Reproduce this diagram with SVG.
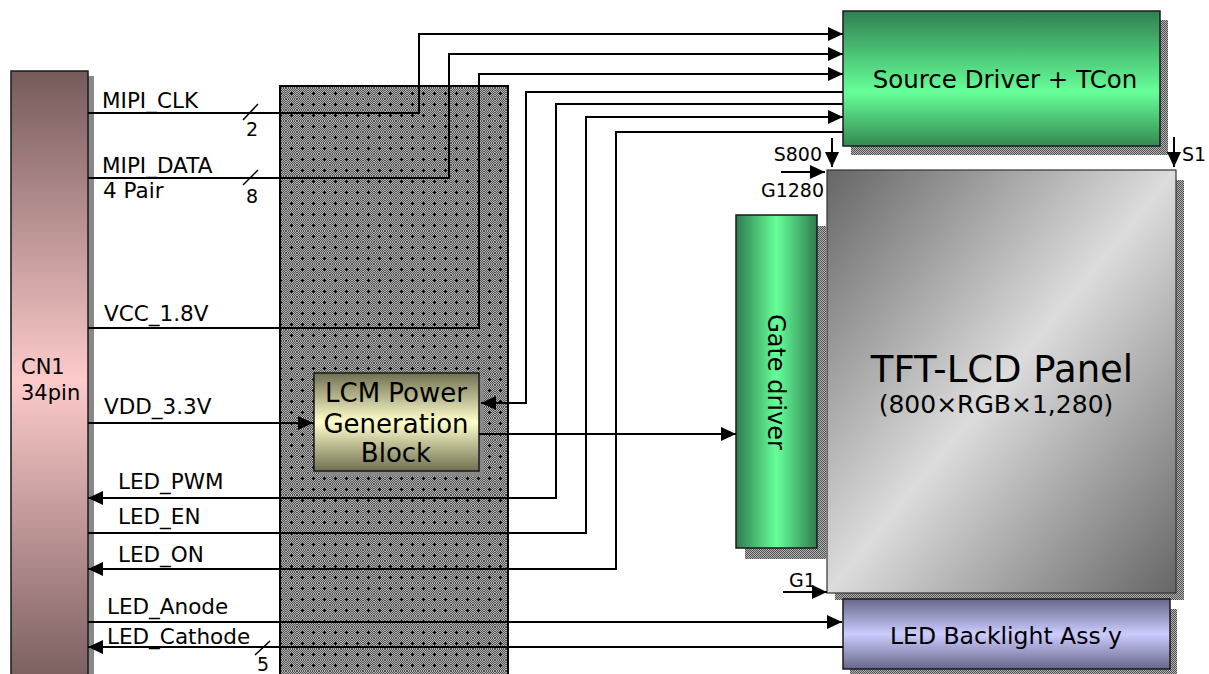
<svg xmlns="http://www.w3.org/2000/svg" width="1209" height="674" viewBox="0 0 1209 674">
<style>
text{font-family:"DejaVu Sans","Verdana",sans-serif;fill:#000}
.lbl{font-size:21.5px}
.num{font-size:19px}
.wire{fill:none;stroke:#000;stroke-width:2}
.tick{stroke:#000;stroke-width:1.5}
.box{stroke:#1a1a1a;stroke-width:1.5}
</style>
<defs>
<pattern id="chk" width="2" height="2" patternUnits="userSpaceOnUse">
<rect width="2" height="2" fill="#b4b4b4"/>
<rect width="1" height="1" fill="#505050"/>
<rect x="1" y="1" width="1" height="1" fill="#505050"/>
</pattern>
<pattern id="dots" width="11" height="11" patternUnits="userSpaceOnUse">
<rect width="11" height="11" fill="url(#chk)"/>
<rect x="5" y="4" width="1" height="3" fill="#000"/>
<rect x="4" y="5" width="3" height="1" fill="#000"/>
</pattern>
<linearGradient id="gCN" x1="0" y1="71" x2="0" y2="690" gradientUnits="userSpaceOnUse">
<stop offset="0" stop-color="#765b5b"/>
<stop offset="0.5" stop-color="#fdcaca"/>
<stop offset="1" stop-color="#765b5b"/>
</linearGradient>
<linearGradient id="gSrc" x1="0" y1="0" x2="0" y2="1">
<stop offset="0" stop-color="#2f8050"/>
<stop offset="0.6" stop-color="#66ff99"/>
<stop offset="1" stop-color="#33894f"/>
</linearGradient>
<linearGradient id="gGate" x1="0" y1="0" x2="1" y2="0">
<stop offset="0" stop-color="#2e7d4f"/>
<stop offset="0.5" stop-color="#66ff99"/>
<stop offset="1" stop-color="#2e7d4f"/>
</linearGradient>
<linearGradient id="gLCM" x1="0" y1="0" x2="0" y2="1">
<stop offset="0" stop-color="#707052"/>
<stop offset="0.5" stop-color="#ffffcc"/>
<stop offset="1" stop-color="#707052"/>
</linearGradient>
<linearGradient id="gBL" x1="0" y1="0" x2="0" y2="1">
<stop offset="0" stop-color="#67678a"/>
<stop offset="0.5" stop-color="#ccccff"/>
<stop offset="1" stop-color="#67678a"/>
</linearGradient>
<linearGradient id="gTFT" x1="0" y1="0" x2="1" y2="1">
<stop offset="0" stop-color="#666"/>
<stop offset="0.5" stop-color="#dcdcdc"/>
<stop offset="1" stop-color="#666"/>
</linearGradient>
<marker id="ah" markerUnits="userSpaceOnUse" markerWidth="15" markerHeight="14" refX="15" refY="7" orient="auto">
<path d="M0,0 L15,7 L0,14 z" fill="#000"/>
</marker>
</defs>

<rect width="1209" height="674" fill="#fff"/>

<g id="cn1">
<rect x="88" y="76" width="6" height="600" fill="#888"/>
<rect x="11" y="71" width="77" height="610" fill="url(#gCN)" class="box"/>
<text x="21" y="374" font-size="21">CN1</text>
<text x="21" y="400" font-size="21">34pin</text>
</g>

<g id="interface-block">
<rect x="280" y="86" width="228" height="600" fill="url(#dots)" stroke="#000" stroke-width="2"/>
</g>

<g id="source-driver">
<rect x="851" y="20" width="317" height="135" fill="url(#chk)"/>
<rect x="843" y="11" width="317" height="135" fill="url(#gSrc)" class="box"/>
<text x="1005" y="88" font-size="24.5" text-anchor="middle">Source Driver + TCon</text>
</g>

<g id="tft-panel">
<rect x="835" y="180" width="349" height="420" fill="url(#chk)"/>
<rect x="827" y="170" width="349" height="423" fill="url(#gTFT)" stroke="#333" stroke-width="1.2"/>
<text x="1002" y="382" font-size="37" text-anchor="middle">TFT-LCD Panel</text>
<text x="996" y="413" font-size="25" text-anchor="middle">(800×RGB×1,280)</text>
</g>

<g id="gate-driver">
<rect x="745" y="226" width="81" height="333" fill="url(#chk)"/>
<rect x="736" y="215" width="81" height="333" fill="url(#gGate)" class="box"/>
<text x="0" y="0" font-size="24" text-anchor="middle" transform="translate(768,382) rotate(90)">Gate driver</text>
</g>

<g id="backlight">
<rect x="850" y="609" width="327" height="67" fill="url(#chk)"/>
<rect x="843" y="599" width="327" height="70" fill="url(#gBL)" class="box"/>
<text x="1006" y="644" font-size="23.5" text-anchor="middle">LED Backlight Ass’y</text>
</g>

<g id="lcm-power">
<rect x="319" y="378" width="165" height="98" fill="#888"/>
<rect x="314" y="373" width="165" height="98" fill="url(#gLCM)" class="box"/>
<text x="396" y="402" font-size="26" text-anchor="middle">LCM Power</text>
<text x="396" y="433" font-size="26" text-anchor="middle">Generation</text>
<text x="396" y="462" font-size="26" text-anchor="middle">Block</text>
</g>

<g id="connectors">
<polyline class="wire" points="88,113 419,113 419,34 843,34" marker-end="url(#ah)"/>
<polyline class="wire" points="88,178 449,178 449,54 843,54" marker-end="url(#ah)"/>
<polyline class="wire" points="88,328 479,328 479,74 843,74" marker-end="url(#ah)"/>
<polyline class="wire" points="843,92 526,92 526,403 481,403" marker-end="url(#ah)"/>
<polyline class="wire" points="843,104 556,104 556,498 88,498" marker-end="url(#ah)"/>
<polyline class="wire" points="88,533 586,533 586,117 843,117" marker-end="url(#ah)"/>
<polyline class="wire" points="843,132 616,132 616,569 88,569" marker-end="url(#ah)"/>
<polyline class="wire" points="88,423 313,423" marker-end="url(#ah)"/>
<polyline class="wire" points="479,434 736,434" marker-end="url(#ah)"/>
<polyline class="wire" points="88,622 842,622" marker-end="url(#ah)"/>
<polyline class="wire" points="843,647 88,647" marker-end="url(#ah)"/>
<line class="tick" x1="243" y1="120" x2="258" y2="104"/>
<line class="tick" x1="243" y1="185" x2="258" y2="170"/>
<line class="tick" x1="255" y1="655" x2="270" y2="641"/>
<polyline class="wire" points="832,138 832,167" marker-end="url(#ah)"/>
<polyline class="wire" points="1174,137 1174,167" marker-end="url(#ah)"/>
<polyline class="wire" points="781,172 825,172" marker-end="url(#ah)"/>
<polyline class="wire" points="783,592 827,592" marker-end="url(#ah)"/>
</g>

<g id="labels">
<text class="lbl" x="102" y="108">MIPI_CLK</text>
<text class="lbl" x="102" y="173">MIPI_DATA</text>
<text class="lbl" x="103" y="198">4 Pair</text>
<text class="num" x="246" y="136">2</text>
<text class="num" x="246" y="203">8</text>
<text class="lbl" x="104" y="321">VCC_1.8V</text>
<text class="lbl" x="104" y="414">VDD_3.3V</text>
<text class="lbl" x="118" y="489">LED_PWM</text>
<text class="lbl" x="118" y="524">LED_EN</text>
<text class="lbl" x="118" y="562">LED_ON</text>
<text class="lbl" x="107" y="614">LED_Anode</text>
<text class="lbl" x="107" y="644">LED_Cathode</text>
<text class="num" x="257" y="671">5</text>
<text class="num" x="822" y="161" text-anchor="end">S800</text>
<text class="num" x="824" y="197" text-anchor="end">G1280</text>
<text class="num" x="1182" y="161">S1</text>
<text class="num" x="789" y="587">G1</text>
</g>
</svg>
